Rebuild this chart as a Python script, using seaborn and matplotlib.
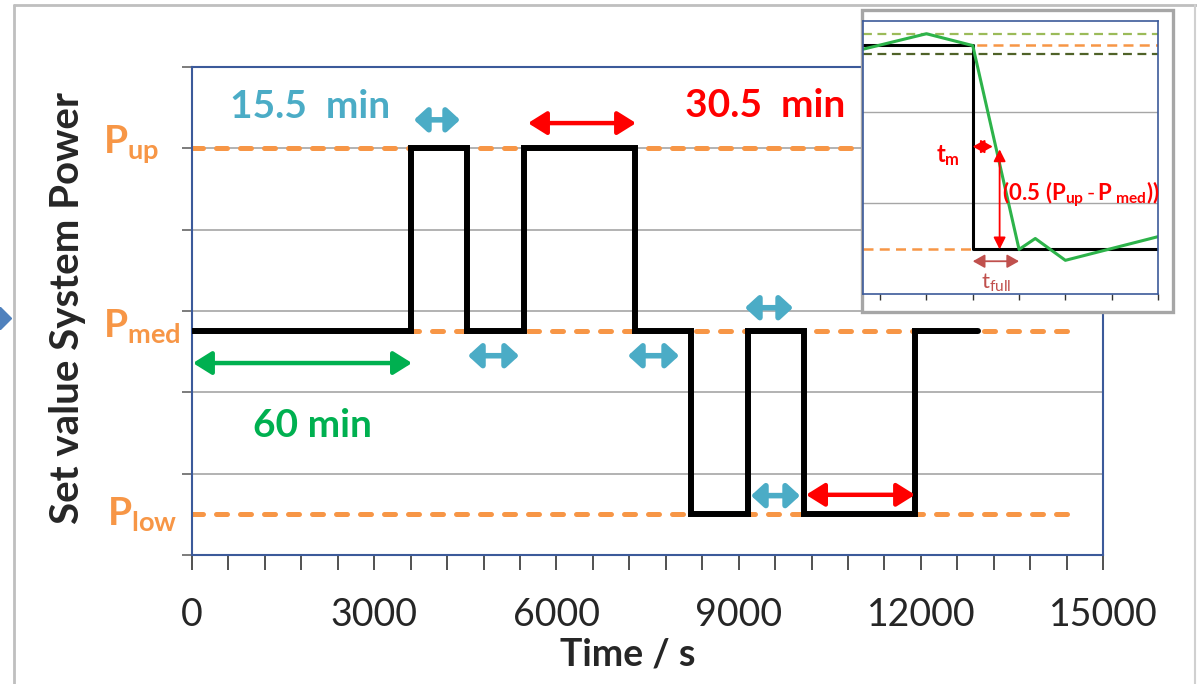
import numpy as np
import pandas as pd
import matplotlib.pyplot as plt
import seaborn as sns
from matplotlib.lines import Line2D
from matplotlib.patches import Rectangle

sns.set_theme(style='white')
plt.rcParams['font.family'] = ['Lato', 'DejaVu Sans']
plt.rcParams['mathtext.fontset'] = 'custom'
plt.rcParams['mathtext.rm'] = 'Lato'
plt.rcParams['mathtext.bf'] = 'Lato:bold'
plt.rcParams['mathtext.it'] = 'Lato:italic'

# power levels (arbitrary units)
P_UP, P_MED, P_LOW = 5.0, 2.75, 0.5

# set value profile: time in s, level
step_time = [0, 3600, 4530, 5460, 7290, 8220, 9150, 10080, 11910, 12940]
step_power = [P_MED, P_UP, P_MED, P_UP, P_MED, P_LOW, P_MED, P_LOW, P_MED, P_MED]

ref_levels = [P_UP, P_MED, P_LOW]
ref_labels = [r'$\mathbf{P}_{\mathbf{up}}$', r'$\mathbf{P}_{\mathbf{med}}$', r'$\mathbf{P}_{\mathbf{low}}$']
ref_end = 14600

# duration arrows (t start, t end, level)
blue_arrows = [(3655, 4413, 5.35), (4545, 5384, 2.45), (7179, 8019, 2.45),
               (9105, 9896, 3.04), (9204, 10011, 0.73)]
red_arrows = [(5532, 7311, 5.31), (10110, 11905, 0.74)]
green_arrow = (16, 3622, 2.36)

# inset: zoom on one step
ins_set_x = [-0.37, 2.0, 6.0]
ins_set_y = [2.74, 0.49, 0.49]
ins_meas_x = [-0.37, 1.0, 2.0, 3.0, 3.35, 4.0, 6.0]
ins_meas_y = [2.69, 2.86, 2.73, 0.49, 0.61, 0.37, 0.63]
ins_hi, ins_lo = 2.74, 0.49
ins_tol_up, ins_tol_dn = 2.86, 2.64

ORANGE = '#F79646'
BLUE = '#4BACC6'
RED = '#FF0000'
GREEN = '#00B050'
FRAME = '#3C5A9A'
GRID = '#A6A6A6'


def dbl_arrow(ax, x0, x1, y, color, lw, ms, hl=0.5, hw=0.35):
    ax.annotate('', xy=(x1, y), xytext=(x0, y),
                arrowprops=dict(arrowstyle=f'<|-|>,head_length={hl},head_width={hw}',
                                color=color, lw=lw, shrinkA=0, shrinkB=0,
                                mutation_scale=ms))


fig = plt.figure(figsize=(11.97, 6.84), dpi=100)
ax = fig.add_axes([0.1604, 0.1886, 0.7611, 0.7135])

# reference levels
for lvl in ref_levels:
    ax.plot([0, ref_end], [lvl, lvl], color=ORANGE, lw=3.6, ls=(0, (2.2, 2.6)),
            dash_capstyle='round', zorder=2)

# set value step profile
sns.lineplot(x=step_time, y=step_power, drawstyle='steps-post', color='black',
             lw=4.3, ax=ax, zorder=3)
ax.lines[-1].set_solid_joinstyle('miter')

ax.set_xlim(0, 15000)
ax.set_ylim(0, 6)
ax.set_xticks(np.arange(0, 15001, 3000))
ax.set_xticks(np.arange(0, 15001, 600), minor=True)
ax.set_yticks(np.arange(0, 7, 1))
ax.set_yticklabels([])
ax.grid(axis='y', color=GRID, lw=1.2)
ax.set_axisbelow(True)
for s in ax.spines.values():
    s.set_color(FRAME)
    s.set_linewidth(1.5)
ax.tick_params(axis='x', which='both', bottom=True, direction='out', length=11,
               width=1.2, color='#333333', labelsize=27, pad=19)
ax.tick_params(axis='y', left=True, direction='out', length=7, width=1.2, color='#666666')

fig.text(628 / 1197, (684 - 655) / 684, 'Time / s', fontsize=27, fontweight='bold',
         ha='center', va='center')
fig.text(68 / 1197, (684 - 308) / 684, 'Set value System Power', rotation=90,
         fontsize=29, fontweight='bold', ha='center', va='center')

for lvl, lab, dx, dy in zip(ref_levels, ref_labels, [-0.0977, -0.0977, -0.0933], [-0.06, -0.07, -0.13]):
    ax.text(dx, lvl + dy, lab, transform=ax.get_yaxis_transform(), color=ORANGE,
            fontsize=28, ha='left', va='baseline')

for x0, x1, y in blue_arrows:
    dbl_arrow(ax, x0, x1, y, BLUE, 4, 13, hl=0.6, hw=0.55)
for x0, x1, y in red_arrows:
    dbl_arrow(ax, x0, x1, y, RED, 3.2, 14, hl=0.8, hw=0.5)
dbl_arrow(ax, *green_arrow, GREEN, 3.2, 14, hl=0.8, hw=0.5)

ax.text(1940, 5.51, '15.5  min', color=BLUE, fontsize=28, fontweight='bold', ha='center', va='center')
ax.text(9435, 5.53, '30.5  min', color=RED, fontsize=28, fontweight='bold', ha='center', va='center')
ax.text(1975, 1.59, '60 min', color=GREEN, fontsize=28, fontweight='bold', ha='center', va='center')

# inset frame
fig.add_artist(Rectangle((862 / 1197, (684 - 312) / 684), (1173 - 862) / 1197, (312 - 10) / 684,
                         transform=fig.transFigure, facecolor='white', edgecolor='#A6A6A6',
                         lw=2.4, zorder=2))

ins = fig.add_axes([863 / 1197, (684 - 294) / 684, 295 / 1197, 273 / 684], zorder=3)
ins.plot([-0.37, 6], [ins_tol_up] * 2, color='#9BBB59', lw=1.6, ls=(0, (4, 2.5)))
ins.plot([-0.37, 6], [ins_tol_dn] * 2, color='#4F6228', lw=1.6, ls=(0, (4, 2.5)))
ins.plot([-0.37, 6], [ins_hi] * 2, color=ORANGE, lw=1.8, ls=(0, (4, 2.5)))
ins.plot([-0.37, 6], [ins_lo] * 2, color=ORANGE, lw=1.8, ls=(0, (4, 2.5)))
sns.lineplot(x=ins_set_x, y=ins_set_y, drawstyle='steps-post', color='black', lw=2.2, ax=ins)
sns.lineplot(x=ins_meas_x, y=ins_meas_y, color='#2DB34A', lw=2.2, ax=ins)

ins.set_xlim(-0.37, 6)
ins.set_ylim(0, 3)
ins.set_xticks(np.arange(0, 7, 1))
ins.set_xticklabels([])
ins.set_yticks([1, 2])
ins.set_yticklabels([])
ins.grid(axis='y', color=GRID, lw=1)
ins.tick_params(axis='x', bottom=True, direction='out', length=4, width=1, color='#333333')
ins.tick_params(axis='y', left=False)
for s in ins.spines.values():
    s.set_color(FRAME)
    s.set_linewidth(1.2)

dbl_arrow(ins, 2.0, 2.43, 1.62, RED, 1.3, 9, hl=0.8, hw=0.45)
ins.annotate('', xy=(2.58, 0.49), xytext=(2.58, 1.59),
             arrowprops=dict(arrowstyle='<|-|>,head_length=0.8,head_width=0.4', color=RED,
                             lw=1.3, shrinkA=0, shrinkB=0, mutation_scale=9))
dbl_arrow(ins, 2.0, 3.0, 0.36, '#C0504D', 1.3, 9, hl=0.8, hw=0.45)
ins.text(1.47, 1.52, r'$\mathbf{t}_{\mathbf{m}}$', color=RED, fontsize=17, ha='center', va='center')
ins.text(2.63, 1.1, r'$\mathbf{(0.5\ (P_{up}\,\text{-}\,P_{\ med}))}$', color=RED, fontsize=16,
         ha='left', va='center', clip_on=False)
ins.text(2.5, 0.12, r'$\mathrm{t}_{\mathrm{full}}$', color='#C0504D', fontsize=16, ha='center', va='center')

# slide border bits
fig.add_artist(Line2D([14 / 1197] * 2, [0, 679 / 684], transform=fig.transFigure, color='#BFBFBF', lw=2))
fig.add_artist(Line2D([14 / 1197, 1], [679 / 684] * 2, transform=fig.transFigure, color='#BFBFBF', lw=2))
fig.add_artist(Line2D([1195 / 1197] * 2, [0, 679 / 684], transform=fig.transFigure, color='#D0D0D0', lw=1.5))
fig.add_artist(Line2D([0], [(684 - 318) / 684], transform=fig.transFigure, marker='D', ms=11,
                      color='#4F81BD', lw=0))

fig.savefig('out.png', dpi=100)
